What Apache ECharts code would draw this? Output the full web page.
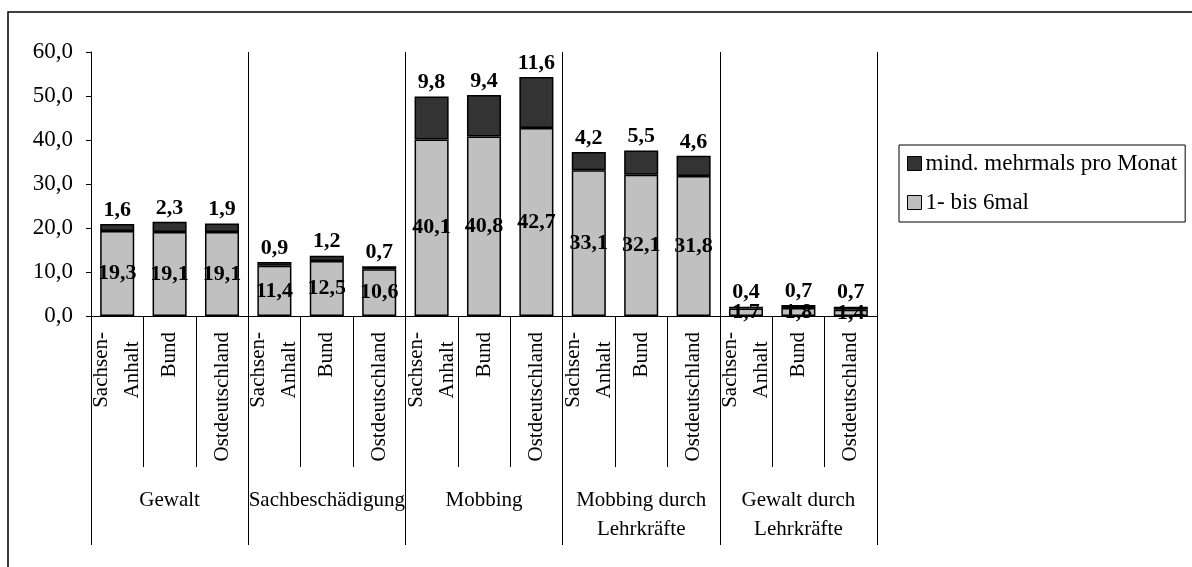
<!DOCTYPE html>
<html>
<head>
<meta charset="utf-8">
<script src="https://cdn.jsdelivr.net/npm/echarts@6/dist/echarts.min.js"></script>
<style>
  html, body { margin: 0; padding: 0; background: #fff; }
  #chart { width: 1192px; height: 567px; }
</style>
</head>
<body>
<div id="chart"></div>
<script>
var regions = ['Sachsen-\nAnhalt', 'Bund', 'Ostdeutschland'];
var groups = ['Gewalt', 'Sachbeschädigung', 'Mobbing', 'Mobbing durch\nLehrkräfte', 'Gewalt durch\nLehrkräfte'];
var seldom = [19.3, 19.1, 19.1, 11.4, 12.5, 10.6, 40.1, 40.8, 42.7, 33.1, 32.1, 31.8, 1.7, 1.8, 1.4];
var often = [1.6, 2.3, 1.9, 0.9, 1.2, 0.7, 9.8, 9.4, 11.6, 4.2, 5.5, 4.6, 0.4, 0.7, 0.7];
var yTicks = [0, 60, 10];

var font = 'Liberation Serif';
var categories = [];
groups.forEach(function (g) {
  regions.forEach(function (r) { categories.push(r); });
});

function fmt(v) {
  return Number(v).toFixed(1).replace('.', ',');
}

var chart = echarts.init(document.getElementById('chart'));

var barLabel = {
  show: true,
  fontFamily: font,
  fontWeight: 'bold',
  fontSize: 22,
  color: '#000',
  formatter: function (p) { return fmt(p.value); }
};

chart.setOption({
  animation: false,
  backgroundColor: '#fff',
  textStyle: { fontFamily: font, color: '#000' },
  graphic: [{
    type: 'rect',
    shape: { x: 8, y: 12, width: 1300, height: 700 },
    style: { fill: 'none', stroke: '#000', lineWidth: 1.5 }
  }],
  grid: { left: 91, right: 315, top: 52, bottom: 251, containLabel: false },
  legend: {
    orient: 'vertical',
    left: 899,
    top: 145,
    padding: [7, 8, 8, 8],
    itemGap: 16,
    itemWidth: 14,
    itemHeight: 14,
    icon: 'rect',
    borderColor: '#000',
    borderWidth: 1,
    itemStyle: { borderColor: '#000', borderWidth: 1 },
    textStyle: { fontFamily: font, fontSize: 23, color: '#000', padding: [0, 0, 0, -1] },
    data: ['mind. mehrmals pro Monat', '1- bis 6mal']
  },
  xAxis: [{
    type: 'category',
    data: categories,
    position: 'bottom',
    axisLine: { show: true, lineStyle: { color: '#000', width: 1 } },
    axisTick: { show: true, interval: 0, length: 151, lineStyle: { color: '#000', width: 1 } },
    axisLabel: {
      interval: 0,
      rotate: 90,
      margin: 16,
      fontFamily: font,
      fontSize: 21,
      lineHeight: 31,
      color: '#000',
      formatter: function (v) {
        if (v.indexOf('\n') >= 0) {
          return v.split('\n').map(function (s) { return '{c|' + s + '}'; }).join('\n');
        }
        return v;
      },
      rich: {
        c: { align: 'center', fontFamily: font, fontSize: 21, lineHeight: 31, color: '#000' }
      }
    },
    splitLine: { show: false }
  }, {
    type: 'category',
    data: groups,
    position: 'bottom',
    axisLine: { show: false },
    axisTick: { show: true, interval: 0, length: 229, lineStyle: { color: '#000', width: 1 } },
    axisLabel: {
      interval: 0,
      margin: 170,
      fontFamily: font,
      fontSize: 21,
      lineHeight: 29,
      color: '#000'
    },
    splitLine: { show: true, interval: 0, lineStyle: { color: '#000', width: 1 } }
  }],
  yAxis: {
    type: 'value',
    min: yTicks[0],
    max: yTicks[1],
    interval: yTicks[2],
    axisLine: { show: true, lineStyle: { color: '#000', width: 1 } },
    axisTick: { show: true, length: 5, lineStyle: { color: '#000' } },
    axisLabel: {
      margin: 18,
      fontFamily: font,
      fontSize: 23,
      color: '#000',
      formatter: function (v) { return fmt(v); }
    },
    splitLine: { show: false }
  },
  series: [{
    name: '1- bis 6mal',
    type: 'bar',
    stack: 'total',
    barWidth: '65%',
    data: seldom,
    itemStyle: { color: '#c0c0c0', borderColor: '#000', borderWidth: 1.5 },
    label: Object.assign({ position: 'inside' }, barLabel)
  }, {
    name: 'mind. mehrmals pro Monat',
    type: 'bar',
    stack: 'total',
    barWidth: '65%',
    data: often,
    itemStyle: { color: '#333333', borderColor: '#000', borderWidth: 1.5 },
    label: Object.assign({ position: 'top', distance: 3 }, barLabel)
  }]
});
</script>
</body>
</html>
